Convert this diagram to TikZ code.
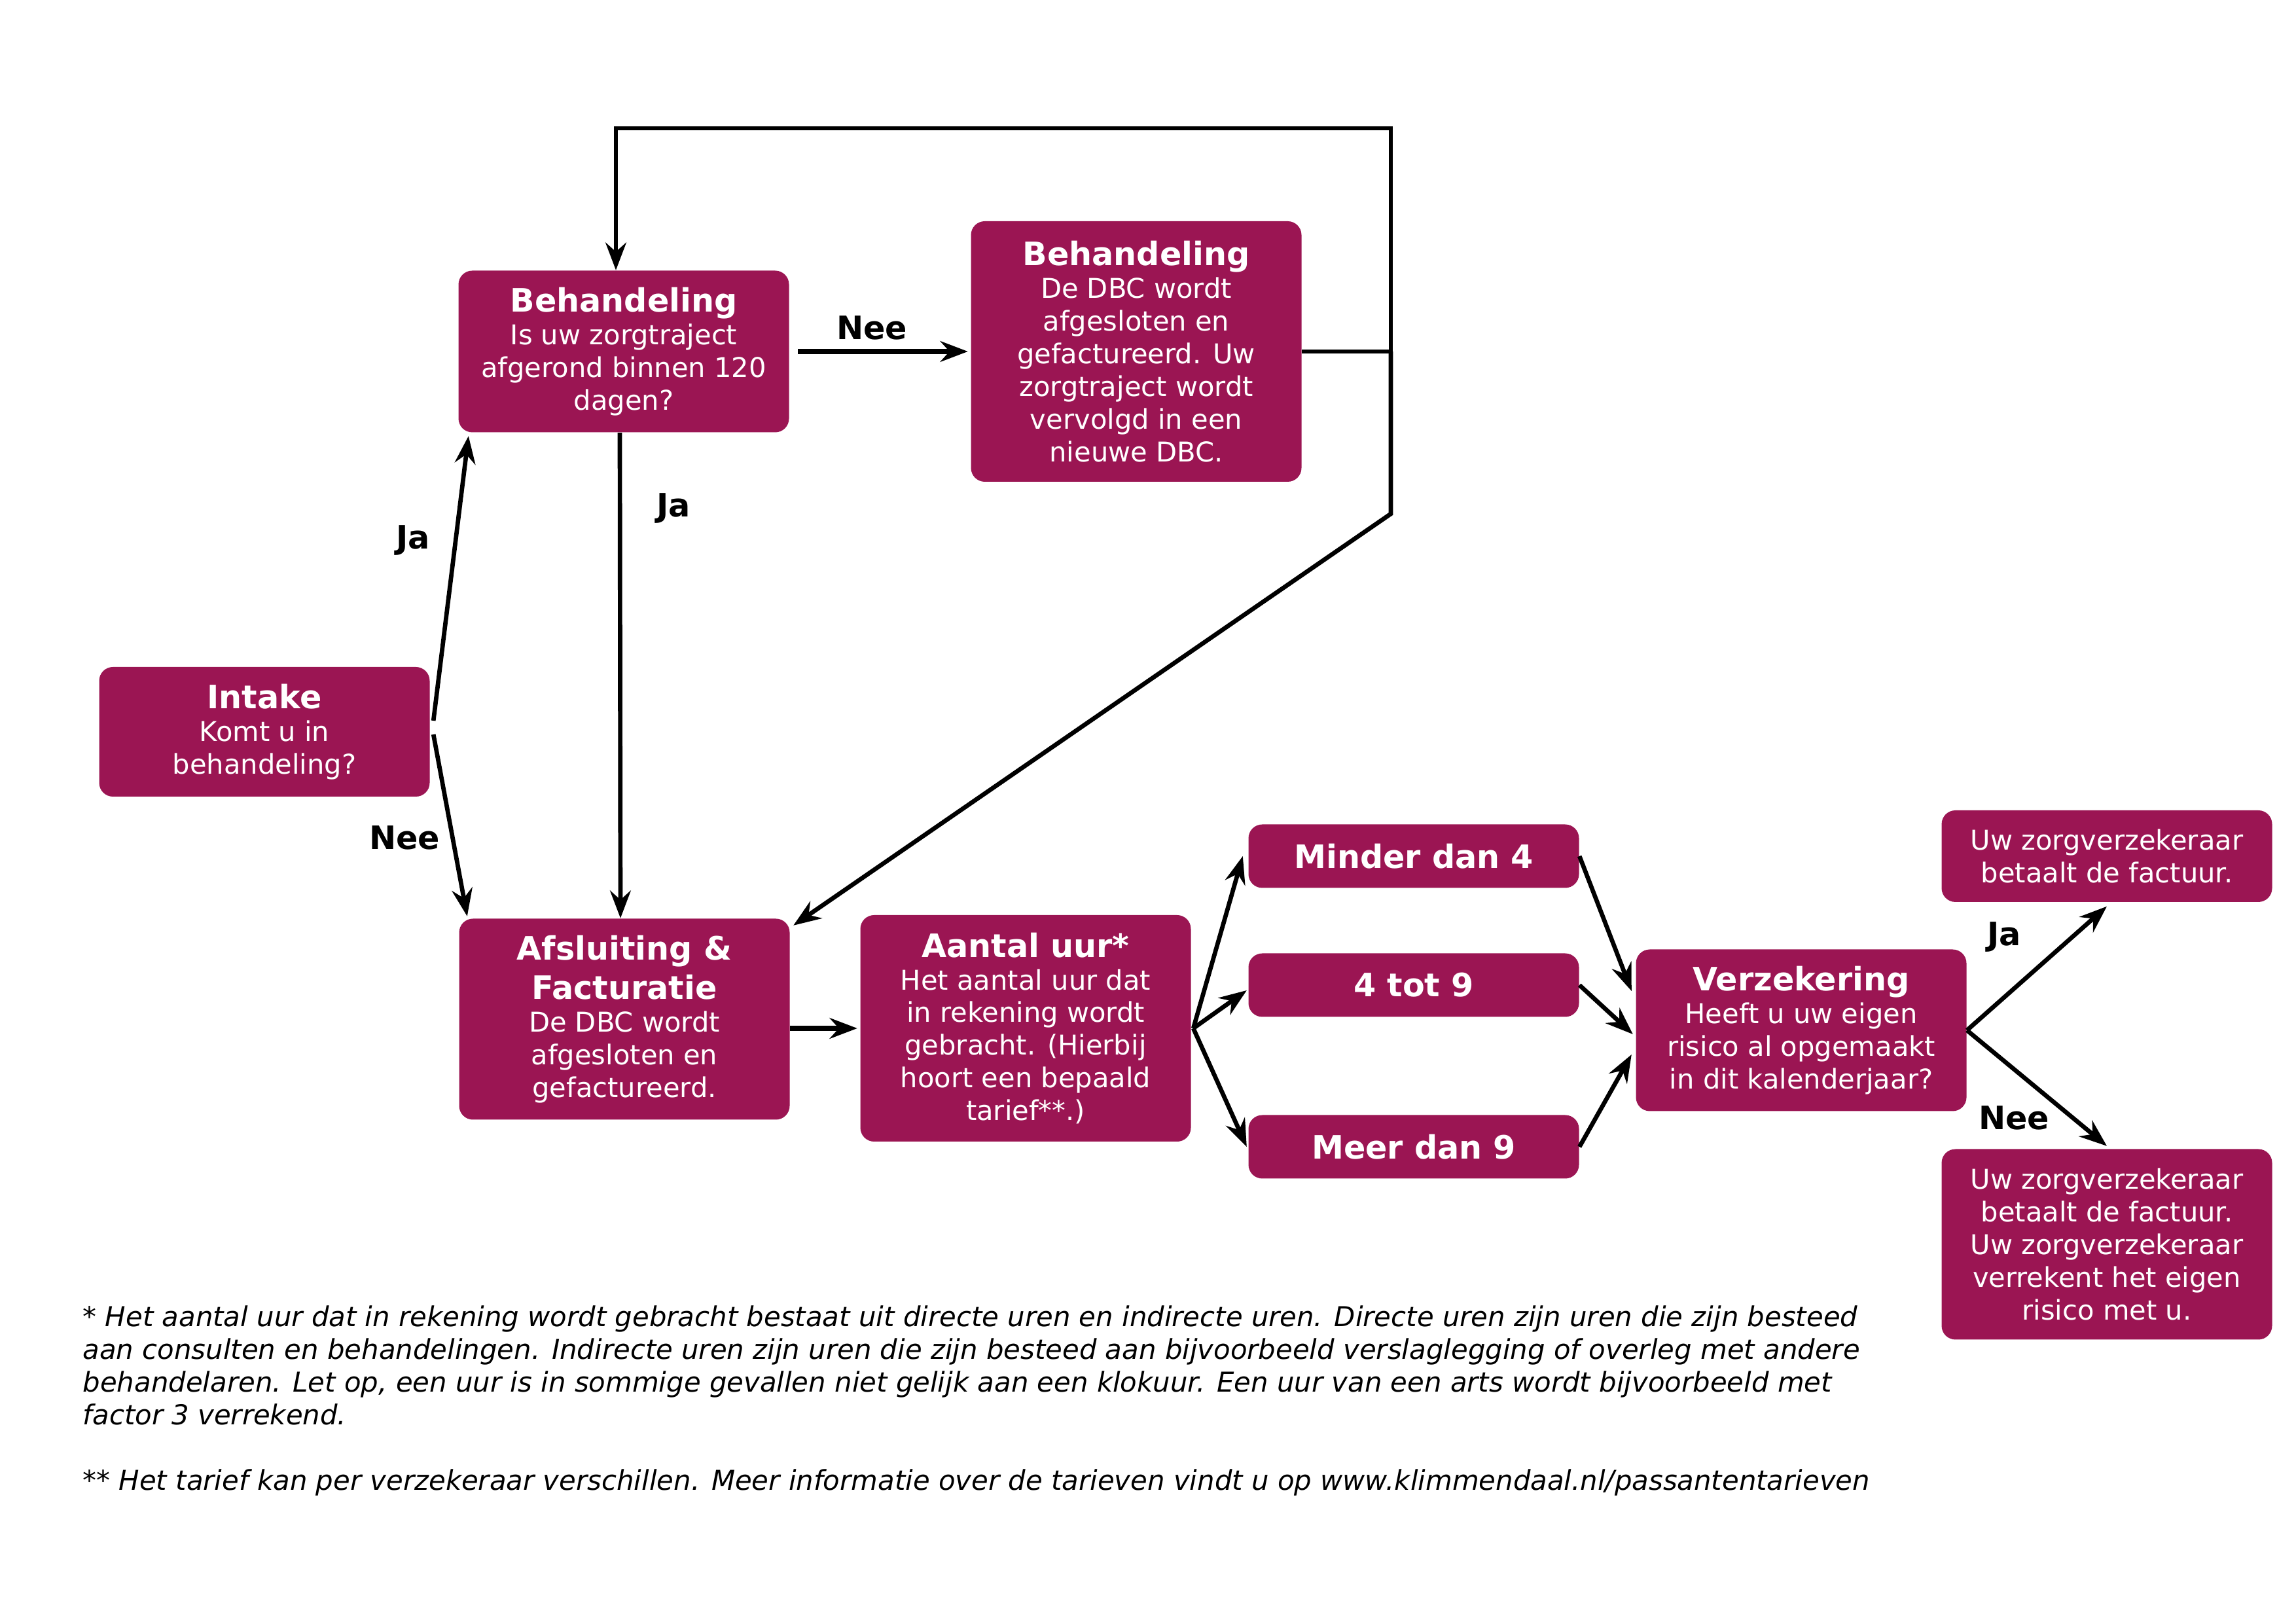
\documentclass[tikz,border=0pt]{standalone}
\usepackage{fontspec}
\setmainfont{DejaVu Sans}[ItalicFont={DejaVu Sans Oblique},BoldFont={DejaVu Sans Bold},BoldItalicFont={DejaVu Sans Bold Oblique}]
\usetikzlibrary{arrows.meta}
\definecolor{paars}{HTML}{9B1553}
\newcommand{\kop}[1]{{\fontsize{14}{16}\selectfont\bfseries #1}}

\begin{document}
\begin{tikzpicture}[
        blok/.style={fill=paars,text=white,rounded corners=6pt,minimum width=5.05cm,align=center,inner sep=2pt,font=\fontsize{11.85}{14.2}\selectfont},
        pijl/.style={line width=1.9pt,-{Stealth[length=12pt,width=9pt,inset=4pt]}},
        lijn/.style={line width=1.9pt},
        antw/.style={font=\fontsize{14}{16}\selectfont\bfseries}]
                \useasboundingbox (0,0) rectangle (35.08,24.80);
                % blokken
                \node[blok,minimum height=1.98cm] (intake) at (4.04,13.62) {\kop{Intake}\\Komt u in\\behandeling?};
                \node[blok,minimum height=2.47cm] (behvraag) at (9.53,19.43) {\kop{Behandeling}\\Is uw zorgtraject\\afgerond binnen 120\\dagen?};
                \node[blok,minimum height=3.98cm] (behnieuw) at (17.36,19.43) {\kop{Behandeling}\\De DBC wordt\\afgesloten en\\gefactureerd. Uw\\zorgtraject wordt\\vervolgd in een\\nieuwe DBC.};
                \node[blok,minimum height=3.07cm] (afsl) at (9.54,9.23) {\kop{Afsluiting \&}\\[3pt]\kop{Facturatie}\\De DBC wordt\\afgesloten en\\gefactureerd.};
                \node[blok,minimum height=3.46cm] (aantal) at (15.67,9.09) {\kop{Aantal uur*}\\Het aantal uur dat\\in rekening wordt\\gebracht. (Hierbij\\hoort een bepaald\\tarief**.)};
                \node[blok,minimum height=0.97cm] (minder) at (21.60,11.72) {\kop{Minder dan 4}};
                \node[blok,minimum height=0.97cm] (tussen) at (21.60,9.75) {\kop{4 tot 9}};
                \node[blok,minimum height=0.97cm] (meer) at (21.60,7.28) {\kop{Meer dan 9}};
                \node[blok,minimum height=2.47cm] (verz) at (27.52,9.06) {\kop{Verzekering}\\Heeft u uw eigen\\risico al opgemaakt\\in dit kalenderjaar?};
                \node[blok,minimum height=1.40cm] (uwja) at (32.19,11.72) {Uw zorgverzekeraar\\betaalt de factuur.};
                \node[blok,minimum height=2.91cm] (uwnee) at (32.19,5.79) {Uw zorgverzekeraar\\betaalt de factuur.\\Uw zorgverzekeraar\\verrekent het eigen\\risico met u.};
                % lus terug
                \coordinate (lusmidden) at (21.25,19.43);
                \coordinate (lusboven) at (21.25,22.84);
                \coordinate (lusonder) at (21.25,16.95);
                \coordinate (waaier) at ([xshift=0.03cm]aantal.east);
                % verbindingen
                \draw[pijl] ([xshift=0.05cm,yshift=0.17cm]intake.east) -- ([xshift=0.16cm,yshift=-0.05cm]behvraag.south west);
                \draw[pijl] ([xshift=0.05cm,yshift=-0.04cm]intake.east) -- ([xshift=0.13cm,yshift=0.03cm]afsl.north west);
                \draw[pijl] ([xshift=-0.06cm]behvraag.south) -- ([xshift=-0.06cm]afsl.north);
                \draw[pijl,line width=2.5pt] ([xshift=0.13cm]behvraag.east) -- ([xshift=-0.04cm]behnieuw.west);
                \draw[lijn] (behnieuw.east) -- (lusmidden);
                \draw[pijl] (lusmidden) -- (lusboven) -| ([xshift=-0.12cm]behvraag.north);
                \draw[pijl] (lusmidden) -- (lusonder) -- ([xshift=0.05cm,yshift=-0.11cm]afsl.north east);
                \draw[pijl,line width=2.5pt] (afsl.east |- aantal.west) -- ([xshift=-0.04cm]aantal.west);
                \draw[pijl] (waaier) -- ([xshift=-0.08cm]minder.west);
                \draw[pijl] (waaier) -- ([xshift=-0.02cm,yshift=-0.08cm]tussen.west);
                \draw[pijl] (waaier) -- ([xshift=-0.02cm]meer.west);
                \draw[pijl] (minder.east) -- ([xshift=-0.06cm,yshift=0.60cm]verz.west);
                \draw[pijl] (tussen.east) -- ([xshift=-0.04cm,yshift=-0.06cm]verz.west);
                \draw[pijl] (meer.east) -- ([xshift=-0.06cm,yshift=-0.37cm]verz.west);
                \draw[pijl] (verz.east) -- ([yshift=-0.06cm]uwja.south);
                \draw[pijl] (verz.east) -- ([yshift=0.04cm]uwnee.north);
                % antwoorden
                \node[antw] (ja1) at (6.31,16.54) {Ja};
                \node[antw] (nee1) at (6.18,12.00) {Nee};
                \node[antw] (ja2) at (10.29,17.03) {Ja};
                \node[antw] (nee2) at (13.32,19.79) {Nee};
                \node[antw] (ja3) at (30.62,10.48) {Ja};
                \node[antw] (nee3) at (30.77,7.72) {Nee};
                % voetnoot
                \node[anchor=north west,align=left,inner sep=0pt,font=\fontsize{11.9}{14.2}\selectfont\itshape] (voetnoot) at (1.26,4.86) {* Het aantal uur dat in rekening wordt gebracht bestaat uit directe uren en indirecte uren. Directe uren zijn uren die zijn besteed\\aan consulten en behandelingen. Indirecte uren zijn uren die zijn besteed aan bijvoorbeeld verslaglegging of overleg met andere\\behandelaren. Let op, een uur is in sommige gevallen niet gelijk aan een klokuur. Een uur van een arts wordt bijvoorbeeld met\\factor 3 verrekend.\\[14.2pt]** Het tarief kan per verzekeraar verschillen. Meer informatie over de tarieven vindt u op www.klimmendaal.nl/passantentarieven};
            \end{tikzpicture}
\end{document}
